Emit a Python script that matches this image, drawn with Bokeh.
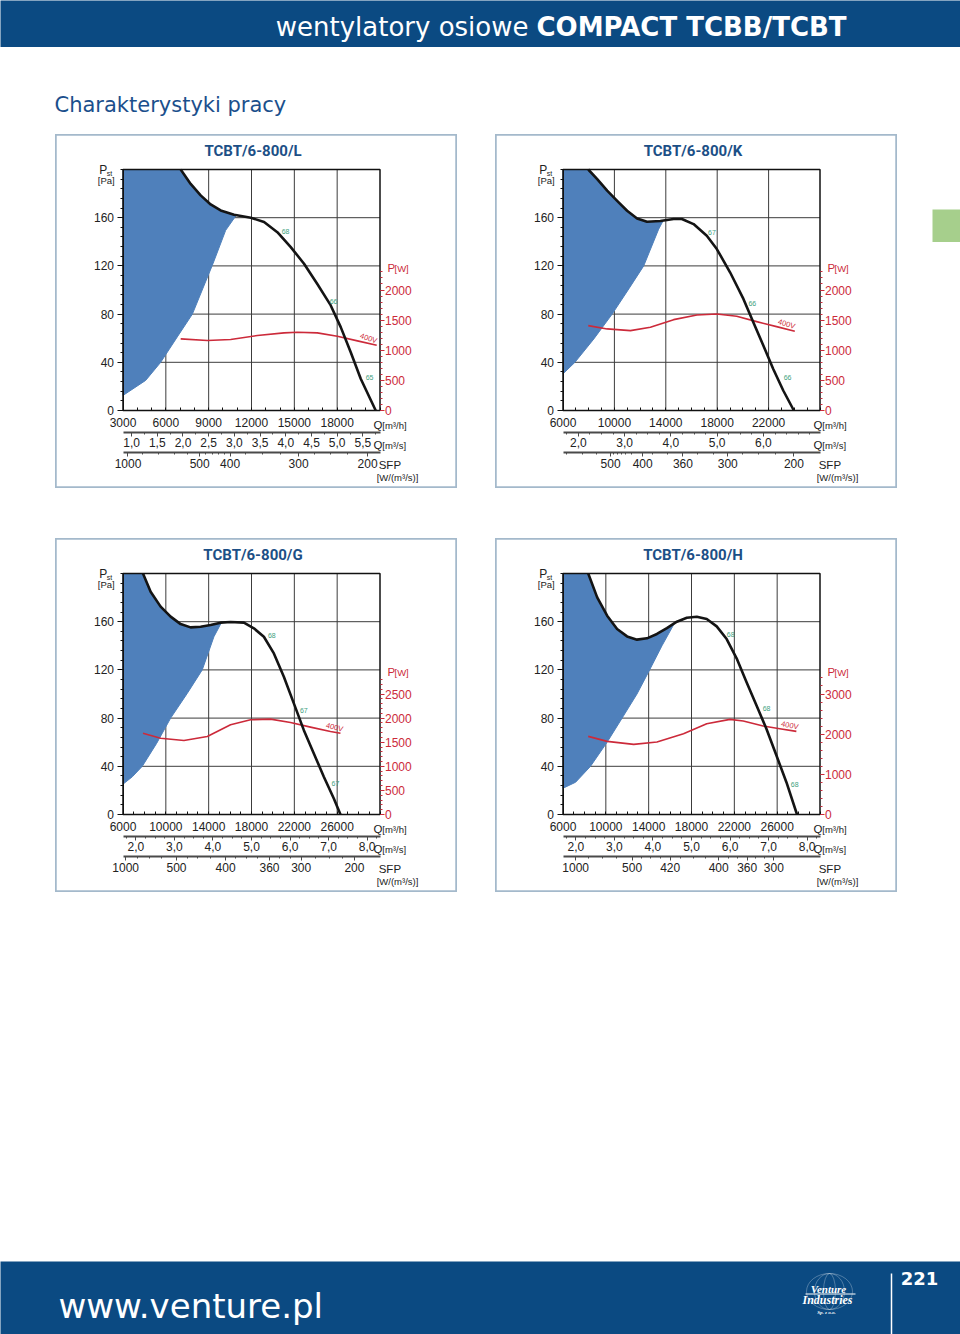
import numpy as np
from bokeh.plotting import figure
from bokeh.models import (Range1d, LinearAxis, FixedTicker, CustomJSTickFormatter,
                          Label, Spacer, ColumnDataSource)
from bokeh.layouts import column, row
from bokeh.embed import file_html
from bokeh.resources import INLINE
from bokeh.core.properties import value

# ---------------------------------------------------------------- data
# ---- TCBT/6-800/L
L_title = "TCBT/6-800/L"
L_q_range = [3000, 21000]
L_q_ticks = [3000, 6000, 9000, 12000, 15000, 18000]
L_qs_ticks = [1.0, 1.5, 2.0, 2.5, 3.0, 3.5, 4.0, 4.5, 5.0, 5.5]
L_w_max = 4000
L_w_ticks = [0, 500, 1000, 1500, 2000]
L_w_minor = list(range(0, 2301, 100))
L_sfp_labels = ["1000", "500", "400", "300", "200"]
L_sfp_pos = [3350, 8370, 10500, 15300, 20130]
L_sfp_minor = [4400, 5500, 6600, 7500, 8800, 9250, 9700, 10100, 11600, 12800, 14000, 16400, 17500, 18700]
L_fan_q = [7040, 7740, 8440, 9140, 9840, 10780, 11950, 12880, 13810, 14750, 15680, 16610, 17550, 18250, 18950, 19650, 20700]
L_fan_p = [200, 188, 178.5, 171, 166, 162.5, 160, 156.4, 148, 135.6, 121.8, 105, 87.2, 69.2, 48.4, 26.3, 0]
L_surge_q = [3000, 4590, 5640, 6800, 7860, 9300, 10190, 10900]
L_surge_p = [12.5, 25, 40, 61, 80, 121.8, 149.5, 161.5]
L_pow_q = [7040, 8910, 10540, 12410, 14280, 15210, 16610, 18010, 19420, 20770]
L_pow_w = [1189, 1161, 1178, 1244, 1289, 1300, 1289, 1233, 1156, 1083]
L_eff_text = ["68", "66", "65"]
L_eff_q = [14390, 17750, 20270]
L_eff_p = [148.7, 90.5, 27.4]
L_volt_q, L_volt_w = 20200, 1200

# ---- TCBT/6-800/K
K_title = "TCBT/6-800/K"
K_q_range = [6000, 26000]
K_q_ticks = [6000, 10000, 14000, 18000, 22000]
K_qs_ticks = [2.0, 3.0, 4.0, 5.0, 6.0]
K_w_max = 4000
K_w_ticks = [0, 500, 1000, 1500, 2000]
K_w_minor = list(range(0, 2301, 100))
K_sfp_labels = ["500", "400", "360", "300", "200"]
K_sfp_pos = [9700, 12200, 15330, 18820, 23970]
K_sfp_minor = [6300, 7500, 8600, 9950, 10250, 10550, 10900, 11300, 13000, 14100, 16500, 17700, 20000, 21200, 22500]
K_fan_q = [7965, 8663, 9438, 10214, 10989, 11765, 12540, 13574, 14608, 15250, 16160, 17190, 17970, 19000, 20040, 20810, 21590, 22360, 23140, 23966]
K_fan_p = [200, 192, 182.4, 174, 165.8, 159.4, 156.7, 157.2, 158.9, 158.9, 154.7, 145, 134, 114.7, 92.6, 73.2, 53.9, 34.5, 16.6, 0]
K_surge_q = [6000, 6930, 8400, 9826, 11120, 12280, 13445, 13755]
K_surge_p = [30.4, 40, 59.4, 80, 100.9, 120, 150.5, 156.7]
K_pow_q = [7965, 9438, 11250, 12800, 14608, 16420, 17970, 19520, 21070, 22620, 24040]
K_pow_w = [1409, 1354, 1326, 1381, 1508, 1586, 1602, 1564, 1475, 1392, 1315]
K_eff_text = ["67", "66", "66"]
K_eff_q = [17590, 20730, 23480]
K_eff_p = [147.9, 89, 27.7]
K_volt_q, K_volt_w = 23400, 1437

# ---- TCBT/6-800/G
G_title = "TCBT/6-800/G"
G_q_range = [6000, 30000]
G_q_ticks = [6000, 10000, 14000, 18000, 22000, 26000]
G_qs_ticks = [2.0, 3.0, 4.0, 5.0, 6.0, 7.0, 8.0]
G_w_max = 5000
G_w_ticks = [0, 500, 1000, 1500, 2000, 2500]
G_w_minor = list(range(0, 2801, 100))
G_sfp_labels = ["1000", "500", "400", "360", "300", "200"]
G_sfp_pos = [6250, 11000, 15580, 19680, 22640, 27610]
G_sfp_minor = [7400, 8500, 9600, 12000, 13000, 14200, 16500, 17500, 18600, 20600, 21600, 24000, 25300, 26500]
G_fan_q = [7866, 8581, 9514, 10447, 11380, 12313, 13246, 14180, 15112, 16045, 17290, 18222, 19155, 20090, 21021, 21954, 22887, 23820, 24753, 25686, 26308]
G_fan_p = [200, 184.9, 172.5, 164.2, 158, 155.3, 155.8, 157.2, 159.2, 159.7, 159.2, 154.5, 147.5, 133.7, 114.3, 92.2, 70, 50.7, 31.3, 13.3, 0]
G_surge_q = [6000, 6870, 7800, 9140, 10450, 12000, 13400, 14490, 15200]
G_surge_p = [25.2, 31.3, 40, 59, 80, 100.5, 120, 147.5, 159.4]
G_pow_q = [7866, 9514, 11691, 13868, 16045, 17911, 19777, 21643, 23509, 25375, 26308]
G_pow_w = [1687, 1583, 1535, 1618, 1861, 1965, 1979, 1910, 1813, 1722, 1687]
G_eff_text = ["68", "67", "67"]
G_eff_q = [19900, 22890, 25840]
G_eff_p = [148.2, 86.7, 25.7]
G_volt_q, G_volt_w = 25750, 1812

# ---- TCBT/6-800/H
H_title = "TCBT/6-800/H"
H_q_range = [6000, 30000]
H_q_ticks = [6000, 10000, 14000, 18000, 22000, 26000]
H_qs_ticks = [2.0, 3.0, 4.0, 5.0, 6.0, 7.0, 8.0]
H_w_max = 6000
H_w_ticks = [0, 1000, 2000, 3000]
H_w_minor = list(range(0, 3401, 200))
H_sfp_labels = ["1000", "500", "420", "400", "360", "300"]
H_sfp_pos = [7180, 12450, 16010, 20540, 23200, 25690]
H_sfp_minor = [8400, 9700, 11000, 13300, 14200, 15100, 17000, 18200, 19300, 21500, 22300, 24000, 24800]
H_fan_q = [8356, 9193, 10123, 11053, 11983, 12913, 13843, 14773, 15703, 16633, 17563, 18493, 19423, 20353, 21283, 22213, 23143, 24073, 25003, 25933, 26863, 27855]
H_fan_p = [200, 180.2, 165, 153.9, 147.8, 145.1, 146.2, 149.8, 154.7, 160, 163.3, 164.1, 162.2, 156.1, 145.6, 129.6, 109.7, 90.4, 71, 48.9, 26.8, 0]
H_surge_q = [6000, 7180, 8570, 10120, 11520, 12910, 14090, 15240, 16420]
H_surge_p = [21.8, 26.8, 40, 60, 80, 100, 120, 140, 158.9]
H_pow_q = [8356, 10123, 12603, 14773, 17253, 19423, 21593, 22833, 24693, 26243, 27793]
H_pow_w = [1945, 1820, 1746, 1804, 2012, 2261, 2369, 2328, 2203, 2136, 2070]
H_eff_text = ["68", "68", "68"]
H_eff_q = [21660, 25010, 27640]
H_eff_p = [149.5, 87.6, 24.6]
H_volt_q, H_volt_w = 27180, 2219

# ---------------------------------------------------------------- style
BLUE = "#0b4a82"
RED = "#cc2a3a"
GREEN_TXT = "#3f9f80"
FILL = "#4f80bb"
GRID = "#3c3c3c"
INK = "#222222"
FONT = "Liberation Sans"
TITLE_FONT = "'Liberation Sans Narrow', Roboto, sans-serif"
PW, PH = 402, 354          # panel box
CL, CT = 67.5, 35          # chart area offset inside panel
FW, FH = 257, 241          # chart area size
YMAX = 200


def lab(p, x, y, text, size, color, align="center", baseline="middle",
        font=FONT, style="normal", angle=0.0, y_range_name="default"):
    p.add_layout(Label(x=x, y=y, text=text, text_font=font, text_font_size=f"{size}px",
                       text_color=color, text_align=align, text_baseline=baseline,
                       text_font_style=style, angle=angle, y_range_name=y_range_name))


def style_axis(ax, color=INK, tick_color="#111111", size="12px"):
    ax.major_label_text_font = FONT
    ax.major_label_text_font_size = size
    ax.major_label_text_color = color
    ax.major_tick_line_color = tick_color
    ax.minor_tick_line_color = tick_color


def panel(title, q_range, q_ticks, qs_ticks, w_max, w_ticks, w_minor, sfp_labels, sfp_pos,
          sfp_minor, fan_q, fan_p, surge_q, surge_p, pow_q, pow_w, eff_text, eff_q, eff_p,
          volt_q, volt_w, volt_angle):
    qmin, qmax = q_range
    dxp = (qmax - qmin) / FW
    dyp = YMAX / FH
    x0 = qmin - CL * dxp
    x1 = qmax + (PW - CL - FW) * dxp
    y0 = -(PH - CT - FH) * dyp
    y1 = YMAX + CT * dyp
    wk = w_max / YMAX

    p = figure(width=PW, height=PH, x_range=Range1d(x0, x1), y_range=Range1d(y0, y1),
               min_border=0, x_axis_type=None, y_axis_type=None, toolbar_location=None,
               output_backend="svg", title=None,
               background_fill_color="white", border_fill_color="white",
               outline_line_color="#a4b9cb", outline_line_width=2.5)
    p.extra_y_ranges = {"w": Range1d(y0 * wk, y1 * wk)}
    p.extra_x_ranges = {"qs": Range1d(x0 / 3600.0, x1 / 3600.0)}

    def X(px):
        return qmin + px * dxp

    def Y(px):
        return px * dyp

    # grid lines at the tick values
    gx = [t for t in q_ticks if t > qmin]
    p.segment(x0=gx, y0=[0] * len(gx), x1=gx, y1=[YMAX] * len(gx), line_color=GRID, line_width=1)
    gy = [40, 80, 120, 160]
    p.segment(x0=[qmin] * len(gy), y0=gy, x1=[qmax] * len(gy), y1=gy, line_color=GRID, line_width=1)

    # unstable area (surge line + upper part of the fan curve)
    fq = np.array(fan_q, dtype=float)
    fp = np.array(fan_p, dtype=float)
    up = fq < surge_q[-1]
    poly_q = list(surge_q) + list(fq[up][::-1]) + [qmin]
    poly_p = list(surge_p) + list(fp[up][::-1]) + [YMAX]
    p.patch(poly_q, poly_p, fill_color=FILL, line_color=FILL, line_width=1, line_join="round")

    # power curve (right axis) and fan curve
    p.line(pow_q, pow_w, y_range_name="w", line_color=RED, line_width=1.6, line_join="round")
    p.line(fan_q, fan_p, line_color="#141414", line_width=2.6, line_join="round")

    # chart area border
    p.quad(left=[qmin], right=[qmax], bottom=[0], top=[YMAX], fill_color=None,
           line_color="#111111", line_width=1.5)

    # left axis Pst
    ya = LinearAxis(fixed_location=qmin, bounds=(0, YMAX),
                    ticker=FixedTicker(ticks=[0, 40, 80, 120, 160], minor_ticks=list(range(0, 201, 8))))
    ya.major_tick_out, ya.major_tick_in = 6, 0
    ya.minor_tick_out, ya.minor_tick_in = 3, 0
    ya.axis_line_color = "#111111"
    ya.major_label_standoff = 3
    style_axis(ya)
    p.add_layout(ya, "left")

    # right axis P[W]
    ra = LinearAxis(y_range_name="w", fixed_location=qmax, bounds=(0, w_max),
                    ticker=FixedTicker(ticks=w_ticks, minor_ticks=w_minor))
    ra.axis_line_color = None
    ra.major_tick_out, ra.major_tick_in = 4, 0
    ra.minor_tick_out, ra.minor_tick_in = 2, 0
    ra.major_label_standoff = 1
    style_axis(ra, color=RED, tick_color=RED)
    p.add_layout(ra, "right")

    # bottom axis 1 : Q [m3/h]
    xa = LinearAxis(fixed_location=0, bounds=(qmin, qmax),
                    ticker=FixedTicker(ticks=q_ticks, minor_ticks=list(range(qmin, qmax + 1, 1000))))
    xa.major_tick_out, xa.major_tick_in = 0, 0
    xa.minor_tick_out, xa.minor_tick_in = 0, 3
    xa.axis_line_color = "#111111"
    xa.major_label_standoff = 7
    style_axis(xa)
    p.add_layout(xa, "below")

    # bottom axis 2 : Q [m3/s]
    qs_minor = [k * 0.25 for k in range(int(qmin / 900) + 1, int(qmax / 900) + 1)]
    a2 = LinearAxis(x_range_name="qs", fixed_location=Y(-21.7), bounds=(qmin / 3600.0, qmax / 3600.0),
                    ticker=FixedTicker(ticks=qs_ticks, minor_ticks=qs_minor),
                    formatter=CustomJSTickFormatter(code="return tick.toFixed(1).replace('.', ',');"))
    a2.axis_line_color = "#4a4a4a"
    a2.axis_line_width = 2
    a2.major_tick_out, a2.major_tick_in = 4, 0
    a2.minor_tick_out, a2.minor_tick_in = 2, 0
    a2.major_label_standoff = 2
    style_axis(a2, tick_color="#4a4a4a")
    p.add_layout(a2, "below")

    # bottom axis 3 : SFP
    a3 = LinearAxis(fixed_location=Y(-42), bounds=(qmin, qmax),
                    ticker=FixedTicker(ticks=sfp_pos, minor_ticks=sfp_minor),
                    formatter=CustomJSTickFormatter(args=dict(pos=sfp_pos, lab=sfp_labels),
                                                    code="const i = pos.indexOf(tick); return i < 0 ? '' : lab[i];"))
    a3.axis_line_color = "#4a4a4a"
    a3.axis_line_width = 2
    a3.major_tick_out, a3.major_tick_in = 4, 0
    a3.minor_tick_out, a3.minor_tick_in = 2, 0
    a3.major_label_standoff = 2
    style_axis(a3, tick_color="#4a4a4a")
    p.add_layout(a3, "below")

    # efficiency labels
    src = ColumnDataSource(dict(q=eff_q, p=eff_p, t=eff_text))
    p.text(x="q", y="p", text="t", source=src, text_font=value(FONT), text_font_size="7px",
           text_color=GREEN_TXT, text_align="center", text_baseline="middle")
    # voltage label
    vsrc = ColumnDataSource(dict(q=[volt_q], w=[volt_w], t=["400V"]))
    p.text(x="q", y="w", text="t", source=vsrc, y_range_name="w", text_font=value(FONT),
           text_font_size="7.5px", text_color=RED, text_align="center", text_baseline="middle",
           angle=volt_angle)

    # titles and unit texts
    lab(p, X(FW / 2 + 1.5), Y(FH + 18.5), title, 15, "#1c4f86", font=TITLE_FONT, style="bold")
    lab(p, X(-19.8), Y(FH - 0.7), "P", 12, INK)
    lab(p, X(-16.3), Y(FH - 3.8), "st", 7, INK, align="left")
    lab(p, X(-16.8), Y(FH - 10.9), "[Pa]", 9.5, INK)
    lab(p, X(FW + 7.4), Y(143), "P", 11.5, RED, align="left")
    lab(p, X(FW + 14.5), Y(142.3), "[W]", 9.5, RED, align="left")
    lab(p, X(FW - 6.5), Y(-14), "Q", 11.5, INK, align="left")
    lab(p, X(FW + 2.3), Y(-14.5), "[m³/h]", 9.5, INK, align="left")
    lab(p, X(FW - 6.5), Y(-34.5), "Q", 11.5, INK, align="left")
    lab(p, X(FW + 2.3), Y(-35), "[m³/s]", 9.5, INK, align="left")
    lab(p, X(FW - 1.3), Y(-54.5), "SFP", 11.5, INK, align="left")
    lab(p, X(FW - 3.3), Y(-67), "[W/(m³/s)]", 9.5, INK, align="left")
    return p


pL = panel(L_title, L_q_range, L_q_ticks, L_qs_ticks, L_w_max, L_w_ticks, L_w_minor, L_sfp_labels,
           L_sfp_pos, L_sfp_minor, L_fan_q, L_fan_p, L_surge_q, L_surge_p, L_pow_q, L_pow_w,
           L_eff_text, L_eff_q, L_eff_p, L_volt_q, L_volt_w, -0.32)
pK = panel(K_title, K_q_range, K_q_ticks, K_qs_ticks, K_w_max, K_w_ticks, K_w_minor, K_sfp_labels,
           K_sfp_pos, K_sfp_minor, K_fan_q, K_fan_p, K_surge_q, K_surge_p, K_pow_q, K_pow_w,
           K_eff_text, K_eff_q, K_eff_p, K_volt_q, K_volt_w, -0.3)
pG = panel(G_title, G_q_range, G_q_ticks, G_qs_ticks, G_w_max, G_w_ticks, G_w_minor, G_sfp_labels,
           G_sfp_pos, G_sfp_minor, G_fan_q, G_fan_p, G_surge_q, G_surge_p, G_pow_q, G_pow_w,
           G_eff_text, G_eff_q, G_eff_p, G_volt_q, G_volt_w, -0.25)
pH = panel(H_title, H_q_range, H_q_ticks, H_qs_ticks, H_w_max, H_w_ticks, H_w_minor, H_sfp_labels,
           H_sfp_pos, H_sfp_minor, H_fan_q, H_fan_p, H_surge_q, H_surge_p, H_pow_q, H_pow_w,
           H_eff_text, H_eff_q, H_eff_p, H_volt_q, H_volt_w, -0.2)


def plain(width, height, x0, x1, y0, y1, bg):
    f = figure(width=width, height=height, x_range=Range1d(x0, x1), y_range=Range1d(y1, y0),
               min_border=0, toolbar_location=None, output_backend="svg", title=None,
               x_axis_type=None, y_axis_type=None, background_fill_color=bg,
               border_fill_color=bg, outline_line_color=None)
    return f


# ---- header band (page y 0..47)
hdr = plain(960, 47, 0, 960, 0, 47, BLUE)
lab(hdr, 528, 26, "wentylatory osiowe", 26, "white", align="right", baseline="alphabetic",
    font="DejaVu Sans")
lab(hdr, 536, 26, "COMPACT TCBB/TCBT", 26, "white", align="left", baseline="alphabetic",
    font="DejaVu Sans", style="bold")

# ---- section title (page y 47..134)
sec = plain(960, 87, 0, 960, 47, 134, "white")
lab(sec, 54, 104, "Charakterystyki pracy", 21, "#1b4f8c", align="left", baseline="alphabetic",
    font="DejaVu Sans")

# ---- green side tab (page x 932..960, y 209..242)
tab = plain(28, 33, 0, 1, 0, 1, "#a6cf8c")
side = column(Spacer(width=28, height=75), tab, Spacer(width=28, height=246))

row1 = row(Spacer(width=55, height=PH), pL, Spacer(width=38, height=PH), pK,
           Spacer(width=35, height=PH), side)
row2 = row(Spacer(width=55, height=PH), pG, Spacer(width=38, height=PH), pH,
           Spacer(width=63, height=PH))

# ---- footer band (page y 1261..1334)
ftr = plain(960, 73, 0, 960, 1261, 1334, BLUE)
lab(ftr, 58, 1305, "www.venture.pl", 34, "white", align="left", baseline="alphabetic",
    font="DejaVu Sans")
ftr.ellipse(x=[829, 829, 829], y=[1291, 1291, 1291], width=[46, 30, 12], height=[36, 36, 36],
            fill_color=None, line_color="white", line_alpha=0.35, line_width=0.8)
ftr.segment(x0=[805], y0=[1293.5], x1=[855], y1=[1293.5], line_color="white", line_width=1)
lab(ftr, 828, 1288, "Venture", 11, "white", font="Liberation Serif", style="bold italic")
lab(ftr, 827, 1299, "Industries", 12, "white", font="Liberation Serif", style="bold italic")
lab(ftr, 826, 1312, "Sp. z o.o.", 5, "white", font="Liberation Serif", style="bold italic")
ftr.segment(x0=[891], y0=[1273], x1=[891], y1=[1334], line_color="white", line_width=1.5)
lab(ftr, 919, 1278, "221", 18, "white", font="DejaVu Sans", style="bold")

page = column(hdr, sec, row1, Spacer(width=960, height=50), row2,
              Spacer(width=960, height=369), ftr)

open("out.html", "w").write(file_html(page, INLINE))
